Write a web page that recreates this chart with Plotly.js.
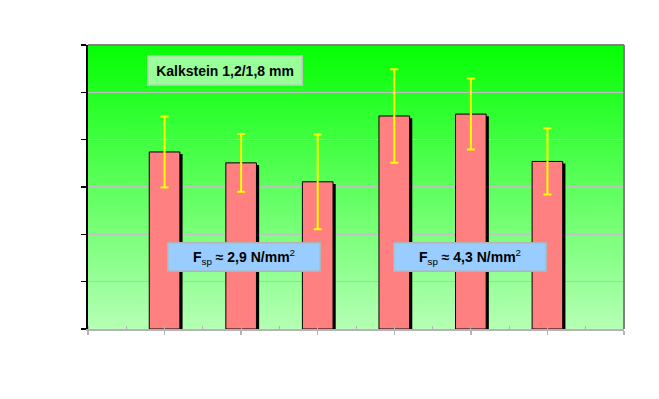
<!DOCTYPE html>
<html>
<head>
<meta charset="utf-8">
<script src="https://cdn.plot.ly/plotly-3.0.1.min.js"></script>
<style>
html,body{margin:0;padding:0;background:#fff;}
#chart{width:659px;height:399px;}
</style>
</head>
<body>
<div id="chart"></div>
<script>
// Data
const positions = [1, 2, 3, 4, 5, 6];
const values = [3.74, 3.51, 3.11, 4.50, 4.54, 3.54];
const errors = [0.75, 0.61, 1.00, 0.99, 0.75, 0.70];
const titleLabel = "Kalkstein 1,2/1,8 mm";
const groupLabels = ["2,9", "4,3"];

// Gradient background image for the plot area
function gradientURL() {
  const c = document.createElement('canvas');
  c.width = 8; c.height = 284;
  const ctx = c.getContext('2d');
  const g = ctx.createLinearGradient(0, 0, 0, 284);
  g.addColorStop(0, '#04ff04');
  g.addColorStop(1, '#b6ffb6');
  ctx.fillStyle = g;
  ctx.fillRect(0, 0, 8, 284);
  return c.toDataURL('image/png');
}

const barWidth = 0.4;
const shadowDx = 0.035;
const shadowDy = 0.045;

const shadow = {
  type: 'bar',
  x: positions,
  y: values.map(v => v - shadowDy),
  width: barWidth,
  offset: -barWidth / 2 + shadowDx,
  marker: {color: '#000000', line: {width: 0}},
  hoverinfo: 'skip',
  showlegend: false
};

const bars = {
  type: 'bar',
  x: positions,
  y: values,
  width: barWidth,
  offset: -barWidth / 2,
  marker: {color: '#ff8080', line: {color: '#000000', width: 1}},
  error_y: {type: 'data', array: errors, visible: true, color: '#ffff00', thickness: 2, width: 4},
  showlegend: false
};

const layout = {
  width: 659,
  height: 399,
  margin: {l: 88, r: 35, t: 45, b: 70},
  paper_bgcolor: '#ffffff',
  plot_bgcolor: 'rgba(0,0,0,0)',
  barmode: 'overlay',
  font: {family: 'Liberation Sans, Arial, sans-serif', color: '#000'},
  xaxis: {
    range: [0, 7],
    tickmode: 'linear', tick0: 0, dtick: 1,
    showticklabels: false,
    ticks: 'outside', ticklen: 4, tickwidth: 1.5, tickcolor: '#b4b4b4',
    minor: {dtick: 0.5, tick0: 0, ticks: 'inside', ticklen: 3, tickwidth: 1, tickcolor: '#b4b4b4', showgrid: false},
    showgrid: false, zeroline: false,
    showline: true, linecolor: '#b4b4b4', linewidth: 2,
    fixedrange: true
  },
  yaxis: {
    range: [0, 6],
    tickmode: 'linear', tick0: 0, dtick: 1,
    showticklabels: false,
    ticks: 'outside', ticklen: 5, tickwidth: 1.5, tickcolor: '#000',
    showgrid: true, gridcolor: '#c0c0c0', gridwidth: 1.5,
    zeroline: false,
    showline: true, linecolor: '#000', linewidth: 2,
    fixedrange: true
  },
  images: [{
    source: gradientURL(),
    xref: 'paper', yref: 'paper',
    x: 0, y: 1, sizex: 1, sizey: 1,
    sizing: 'stretch', layer: 'below',
    xanchor: 'left', yanchor: 'top'
  }],
  shapes: [
    {type: 'line', xref: 'paper', yref: 'paper', x0: 0, x1: 1, y0: 1, y1: 1, line: {color: '#808080', width: 2}},
    {type: 'line', xref: 'paper', yref: 'paper', x0: 1, x1: 1, y0: 0, y1: 1, line: {color: '#808080', width: 2}}
  ],
  annotations: [
    {
      text: '<b>' + titleLabel + '</b>',
      xref: 'paper', yref: 'paper', x: 0.2556, y: 0.911,
      xanchor: 'center', yanchor: 'middle',
      showarrow: false,
      font: {size: 14, color: '#000'},
      bgcolor: '#99ff99', bordercolor: '#c0c0c0', borderwidth: 1.5, borderpad: 0,
      width: 153, height: 28
    },
    {
      text: '<b>F</b><sub>sp</sub><b> ≈ ' + groupLabels[0] + ' N/mm</b><sup>2</sup>',
      xref: 'paper', yref: 'paper', x: 0.2907, y: 0.2546,
      xanchor: 'center', yanchor: 'middle',
      showarrow: false,
      font: {size: 14, color: '#000'},
      bgcolor: '#99ccff', bordercolor: '#b4b4b4', borderwidth: 1.5, borderpad: 0,
      width: 151, height: 27
    },
    {
      text: '<b>F</b><sub>sp</sub><b> ≈ ' + groupLabels[1] + ' N/mm</b><sup>2</sup>',
      xref: 'paper', yref: 'paper', x: 0.7133, y: 0.2546,
      xanchor: 'center', yanchor: 'middle',
      showarrow: false,
      font: {size: 14, color: '#000'},
      bgcolor: '#99ccff', bordercolor: '#b4b4b4', borderwidth: 1.5, borderpad: 0,
      width: 151, height: 27
    }
  ]
};

Plotly.newPlot('chart', [shadow, bars], layout, {displayModeBar: false, staticPlot: true});
</script>
</body>
</html>
